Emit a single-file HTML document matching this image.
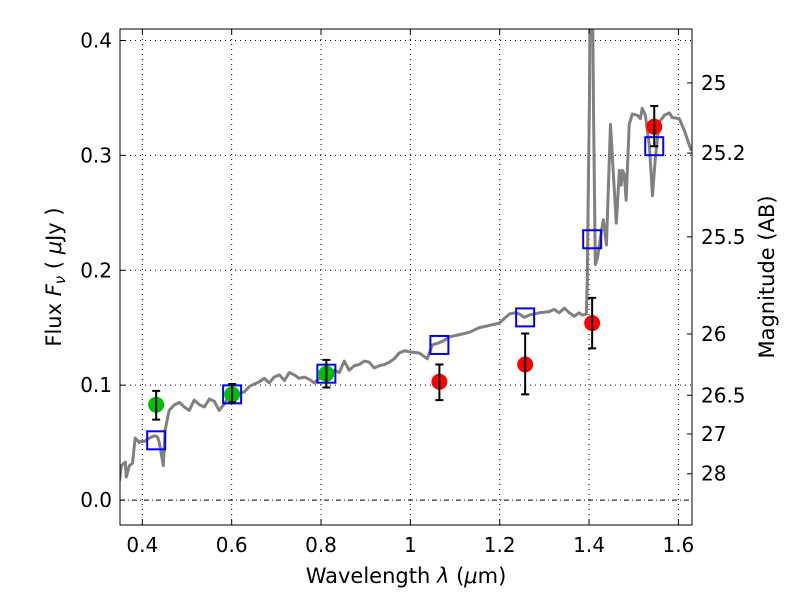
<!DOCTYPE html>
<html><head><meta charset="utf-8"><style>
html,body{margin:0;padding:0;background:#fff;}
svg{display:block;font-family:"DejaVu Sans","Liberation Sans",sans-serif;}
</style></head><body>
<svg id="chart" width="800" height="600" xmlns="http://www.w3.org/2000/svg"></svg>
<script>
const specWave=[0.349,0.353,0.362,0.364,0.371,0.378,0.384,0.389,0.393,0.396,0.404,0.416,0.427,0.434,0.438,0.447,0.451,0.460,0.472,0.483,0.494,0.505,0.516,0.528,0.539,0.550,0.561,0.572,0.584,0.595,0.606,0.617,0.628,0.640,0.651,0.662,0.673,0.684,0.695,0.707,0.718,0.729,0.740,0.751,0.763,0.774,0.785,0.796,0.807,0.819,0.830,0.841,0.852,0.863,0.875,0.886,0.897,0.908,0.919,0.931,0.942,0.953,0.964,0.975,0.987,0.998,1.020,1.038,1.049,1.065,1.076,1.087,1.110,1.132,1.154,1.177,1.199,1.222,1.233,1.244,1.255,1.266,1.289,1.311,1.322,1.333,1.345,1.356,1.367,1.378,1.385,1.394,1.396,1.398,1.401,1.403,1.407,1.410,1.414,1.419,1.428,1.432,1.439,1.448,1.454,1.461,1.468,1.472,1.475,1.479,1.483,1.490,1.497,1.508,1.515,1.519,1.526,1.535,1.542,1.548,1.557,1.569,1.580,1.586,1.602,1.613,1.629];
const specFlux=[0.017,0.030,0.033,0.020,0.030,0.032,0.054,0.052,0.050,0.051,0.051,0.054,0.056,0.055,0.050,0.030,0.061,0.078,0.083,0.085,0.081,0.078,0.087,0.083,0.081,0.088,0.086,0.078,0.084,0.091,0.094,0.093,0.094,0.099,0.101,0.103,0.106,0.102,0.107,0.109,0.104,0.111,0.109,0.106,0.107,0.105,0.102,0.106,0.110,0.110,0.113,0.111,0.121,0.113,0.117,0.118,0.121,0.120,0.115,0.117,0.118,0.120,0.123,0.128,0.130,0.129,0.128,0.123,0.135,0.137,0.139,0.142,0.144,0.146,0.150,0.152,0.154,0.162,0.163,0.162,0.159,0.161,0.163,0.164,0.166,0.163,0.167,0.163,0.160,0.163,0.161,0.162,0.190,0.260,0.350,0.480,0.480,0.340,0.205,0.211,0.235,0.244,0.222,0.327,0.287,0.241,0.287,0.274,0.287,0.283,0.261,0.327,0.336,0.335,0.332,0.341,0.335,0.309,0.265,0.296,0.329,0.335,0.337,0.333,0.332,0.322,0.304];
const photWave=[0.431,0.601,0.812];
const photFlux=[0.083,0.092,0.110];
const photLo=[0.070,0.085,0.098];
const photHi=[0.095,0.101,0.122];
const redWave=[1.065,1.257,1.407,1.546];
const redFlux=[0.103,0.118,0.154,0.325];
const redLo=[0.087,0.092,0.132,0.308];
const redHi=[0.118,0.145,0.176,0.343];
const modelWave=[0.431,0.601,0.812,1.065,1.257,1.407,1.546];
const modelFlux=[0.052,0.092,0.110,0.135,0.159,0.227,0.308];
const xTicks=[0.4,0.6,0.8,1.0,1.2,1.4,1.6];
const xTickLabels=["0.4","0.6","0.8","1","1.2","1.4","1.6"];
const yTicks=[0.0,0.1,0.2,0.3,0.4];
const yTickLabels=["0.0","0.1","0.2","0.3","0.4"];
const magTicks=[25,25.2,25.5,26,26.5,27,28];
const magTickLabels=["25","25.2","25.5","26","26.5","27","28"];

const L=120,R=692,T=29,B=525,X0=0.35,X1=1.6305,Y0=-0.0217,Y1=0.41;
const sx=v=>L+(v-X0)/(X1-X0)*(R-L);
const sy=v=>B-(v-Y0)/(Y1-Y0)*(B-T);
const svg=document.getElementById('chart');
const NS='http://www.w3.org/2000/svg';
function mk(tag,attrs,parent){const e=document.createElementNS(NS,tag);for(const k in attrs)e.setAttribute(k,attrs[k]);(parent||svg).appendChild(e);return e;}

const defs=mk('defs',{});
const cp=mk('clipPath',{id:'clip'},defs);
mk('rect',{x:L,y:T,width:R-L,height:B-T},cp);

xTicks.forEach((t,i)=>{
  const g=mk('line',{x1:sx(t),x2:sx(t),y1:T,y2:B,stroke:'#000','stroke-width':1,'stroke-dasharray':'1,4'});
  
  
});
yTicks.forEach((t,i)=>{
  const g=mk('line',{x1:L,x2:R,y1:sy(t),y2:sy(t),stroke:'#000','stroke-width':1,'stroke-dasharray':t===0?'5,3,1,3':'1,4'});
  
  
});

const sp=mk('polyline',{points:specWave.map((w,i)=>sx(w)+','+sy(specFlux[i])).join(' '),fill:'none',stroke:'#808080','stroke-width':3,'clip-path':'url(#clip)','stroke-linejoin':'round'});



modelWave.forEach((w,i)=>{
  const s=mk('rect',{x:sx(w)-9,y:sy(modelFlux[i])-9,width:18,height:18,fill:'none',stroke:'#0000ff','stroke-width':2});
  
  
});
function pts(ws,fs,lo,hi,col,name){
  ws.forEach((w,i)=>{
    const c=mk('circle',{cx:sx(w),cy:sy(fs[i]),r:8,fill:col});
    
    
    const x=sx(w),y1=sy(lo[i]),y2=sy(hi[i]);
    const e=mk('path',{d:`M${x},${y1}V${y2}M${x-4},${y1}H${x+4}M${x-4},${y2}H${x+4}`,stroke:'#000','stroke-width':2,fill:'none'});
    
    
  });
}
pts(photWave,photFlux,photLo,photHi,'#00bf00','detection-point');
pts(redWave,redFlux,redLo,redHi,'#ff0000','upper-band-point');

const fr=mk('rect',{x:L,y:T,width:R-L,height:B-T,fill:'none',stroke:'#000','stroke-width':1});



xTicks.forEach((t,i)=>{
  mk('path',{d:`M${sx(t)},${B}v-5M${sx(t)},${T}v5`,stroke:'#000'});
  const tx=mk('text',{x:sx(t),y:B+27,'text-anchor':'middle','font-size':20});
  tx.textContent=xTickLabels[i];
  
  
});
yTicks.forEach((t,i)=>{
  mk('path',{d:`M${L},${sy(t)}h5`,stroke:'#000'});
  const tx=mk('text',{x:L-8,y:sy(t)+7,'text-anchor':'end','font-size':20});
  tx.textContent=yTickLabels[i];
  
  
});
magTicks.forEach((m,i)=>{
  const f=Math.pow(10,(23.9-m)/2.5);
  const y=sy(f);
  mk('path',{d:`M${R},${y}h-5`,stroke:'#000'});
  const tx=mk('text',{x:R+9,y:y+7,'text-anchor':'start','font-size':20});
  tx.textContent=magTickLabels[i];
  
  
});
</script>
<svg style="position:absolute;left:0;top:0" width="800" height="600" xmlns="http://www.w3.org/2000/svg">
<text x="406" y="583" text-anchor="middle" font-size="21" font-family="DejaVu Sans, sans-serif">Wavelength  <tspan font-style="italic">λ</tspan> (<tspan font-style="italic">μ</tspan>m)</text>
<text transform="translate(61,277) rotate(-90)" text-anchor="middle" font-size="21" font-family="DejaVu Sans, sans-serif">Flux  <tspan font-style="italic">F</tspan><tspan font-style="italic" font-size="15" dy="4">ν</tspan><tspan dy="-4">  (  </tspan><tspan font-style="italic">μ</tspan>Jy )</text>
<text transform="translate(774,277) rotate(-90)" text-anchor="middle" font-size="21" font-family="DejaVu Sans, sans-serif">Magnitude (AB)</text>
</svg>
</body></html>
